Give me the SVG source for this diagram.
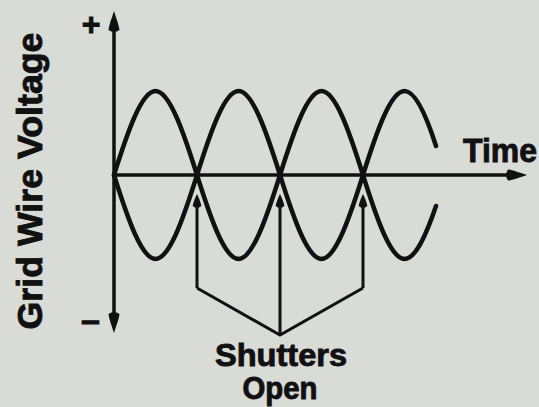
<svg xmlns="http://www.w3.org/2000/svg" width="539" height="407" viewBox="0 0 539 407">
  <style>
    .ink { stroke: #111; fill: none; }
    .axis { stroke-width: 3.5; }
    .wave { stroke-width: 4.5; stroke-linecap: round; stroke-linejoin: round; }
    .conn { stroke-width: 3; stroke-linejoin: miter; }
    .lbl { font-family: "Liberation Sans", Arial, sans-serif; font-weight: bold; fill: #111; stroke: #111; stroke-width: 0.9; }
  </style>
  <defs>
    <marker id="bigHead" markerUnits="userSpaceOnUse" orient="auto-start-reverse" refX="-19" refY="0" markerWidth="30" markerHeight="30" overflow="visible">
      <path d="M0,0 C-5,-1.5 -14,-5 -19,-5.5 Q-23,0 -19,5.5 C-14,5 -5,1.5 0,0 Z" fill="#111"/>
    </marker>
    <marker id="smallHead" markerUnits="userSpaceOnUse" orient="auto" refX="-12" refY="0" markerWidth="20" markerHeight="20" overflow="visible">
      <path d="M0,0 C-3,-1.5 -9,-4 -12,-4.3 Q-16,0 -12,4.3 C-9,4 -3,1.5 0,0 Z" fill="#111"/>
    </marker>
  </defs>
  <rect width="539" height="407" fill="#d9dbd7"/>

  <g id="axes" class="ink axis">
    <line id="voltage-axis" x1="114" y1="30" x2="114" y2="314" marker-start="url(#bigHead)" marker-end="url(#bigHead)"/>
    <line id="time-axis" x1="114" y1="175" x2="508" y2="175" marker-end="url(#bigHead)"/>
  </g>

  <g id="waves" class="ink wave">
    <path id="wave-a" d="M114,175 c13.83,-44 27.67,-84 41.5,-84 c13.83,0 27.67,40 41.5,84 c13.83,44 27.67,84 41.5,84 c13.83,0 27.67,-40 41.5,-84 c13.83,-44 27.67,-84 41.5,-84 c13.83,0 27.67,40 41.5,84 c13.83,44 27.67,84 41.5,84 C415,259 425.5,237 436,206"/>
    <path id="wave-b" d="M114,175 c13.83,44 27.67,84 41.5,84 c13.83,0 27.67,-40 41.5,-84 c13.83,-44 27.67,-84 41.5,-84 c13.83,0 27.67,40 41.5,84 c13.83,44 27.67,84 41.5,84 c13.83,0 27.67,-40 41.5,-84 c13.83,-44 27.67,-84 41.5,-84 C415,91 425.5,113 436,146"/>
  </g>

  <g id="connectors" class="ink conn">
    <polyline points="197,288 280,335 363,288"/>
    <line x1="197" y1="288" x2="197" y2="206" marker-end="url(#smallHead)"/>
    <line x1="363" y1="288" x2="363" y2="206" marker-end="url(#smallHead)"/>
    <line x1="280" y1="335" x2="280" y2="206" marker-end="url(#smallHead)"/>
  </g>

  <g id="labels">
    <text class="lbl" x="91" y="35" font-size="32" text-anchor="middle" stroke-width="1.8">+</text>
    <text class="lbl" x="90.5" y="331" font-size="34" text-anchor="middle" stroke-width="2.8">–</text>
    <text class="lbl" transform="translate(42,181) rotate(-90)" font-size="35" text-anchor="middle" textLength="297" lengthAdjust="spacingAndGlyphs">Grid Wire Voltage</text>
    <text class="lbl" x="463" y="162" font-size="33" textLength="74" lengthAdjust="spacingAndGlyphs">Time</text>
    <g id="shutters-open">
      <text class="lbl" x="281" y="366" font-size="32" text-anchor="middle" textLength="132" lengthAdjust="spacingAndGlyphs">Shutters</text>
      <text class="lbl" x="280" y="399" font-size="31" text-anchor="middle" textLength="75" lengthAdjust="spacingAndGlyphs">Open</text>
    </g>
  </g>
</svg>
